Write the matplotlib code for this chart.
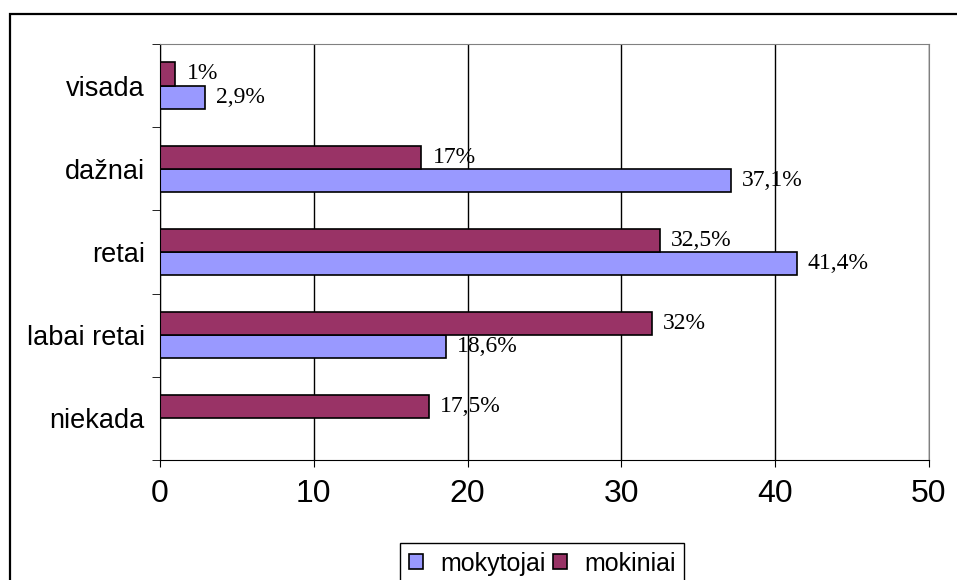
import matplotlib.pyplot as plt
from matplotlib.patches import Rectangle
import numpy as np

categories = ['visada', 'dažnai', 'retai', 'labai retai', 'niekada']
mokytojai = [2.9, 37.1, 41.4, 18.6, 0]
mokiniai = [1, 17, 32.5, 32, 17.5]
lbl_mokytojai = ['2,9%', '37,1%', '41,4%', '18,6%', '']
lbl_mokiniai = ['1%', '17%', '32,5%', '32%', '17,5%']

fig = plt.figure(figsize=(9.57, 5.80), dpi=100)
ax = fig.add_axes([160/957, 120/580, 769/957, 416/580])

y = np.arange(len(categories))
h = 0.28
b1 = ax.barh(y + h/2, mokytojai, height=h, color='#9999FF', edgecolor='black', lw=1.2, label='mokytojai')
b2 = ax.barh(y - h/2, mokiniai, height=h, color='#993366', edgecolor='black', lw=1.2, label='mokiniai')

for bars, lbls in ((b1, lbl_mokytojai), (b2, lbl_mokiniai)):
    for bar, t in zip(bars, lbls):
        if not t:
            continue
        ax.annotate(t, (bar.get_width(), bar.get_y() + bar.get_height()/2),
                    xytext=(8, 0), textcoords='offset points', va='center', ha='left',
                    family='Liberation Serif', fontsize=17)

ax.set_xlim(0, 50)
ax.set_ylim(4.5, -0.5)
ax.set_xticks(range(0, 51, 10))
ax.tick_params(axis='x', labelsize=23, length=5, direction='out', pad=9)
ax.set_yticks(y)
ax.set_yticklabels(categories, family='Liberation Sans', fontsize=19.5)
ax.tick_params(axis='y', length=0, pad=11)
ax.set_yticks(np.arange(-0.5, 5, 1), minor=True)
ax.tick_params(axis='y', which='minor', length=6, direction='out')
for t in ax.get_xticklabels():
    t.set_family('Liberation Sans')

ax.xaxis.grid(True, color='black', lw=1)
ax.set_axisbelow(True)
ax.spines['top'].set_color('gray')
ax.spines['right'].set_color('gray')
ax.spines['left'].set_color('black')
ax.spines['bottom'].set_color('black')

leg = ax.legend(handles=[b1, b2], ncol=2, loc='upper left',
                bbox_to_anchor=(400/957, 37/580), bbox_transform=fig.transFigure,
                borderaxespad=0, fancybox=False, shadow=False, framealpha=1,
                edgecolor='black', prop={'family': 'Liberation Sans', 'size': 18},
                handlelength=0.55, handleheight=0.55, handletextpad=0.7,
                columnspacing=0.3, borderpad=0.35)
leg.get_frame().set_linewidth(1)

# outer chart frame
fig.add_artist(Rectangle((10/957, -0.1), 1.2, 566/580 + 0.1, transform=fig.transFigure,
                         fill=False, edgecolor='black', lw=1.6))

fig.savefig('out.png', dpi=100)
